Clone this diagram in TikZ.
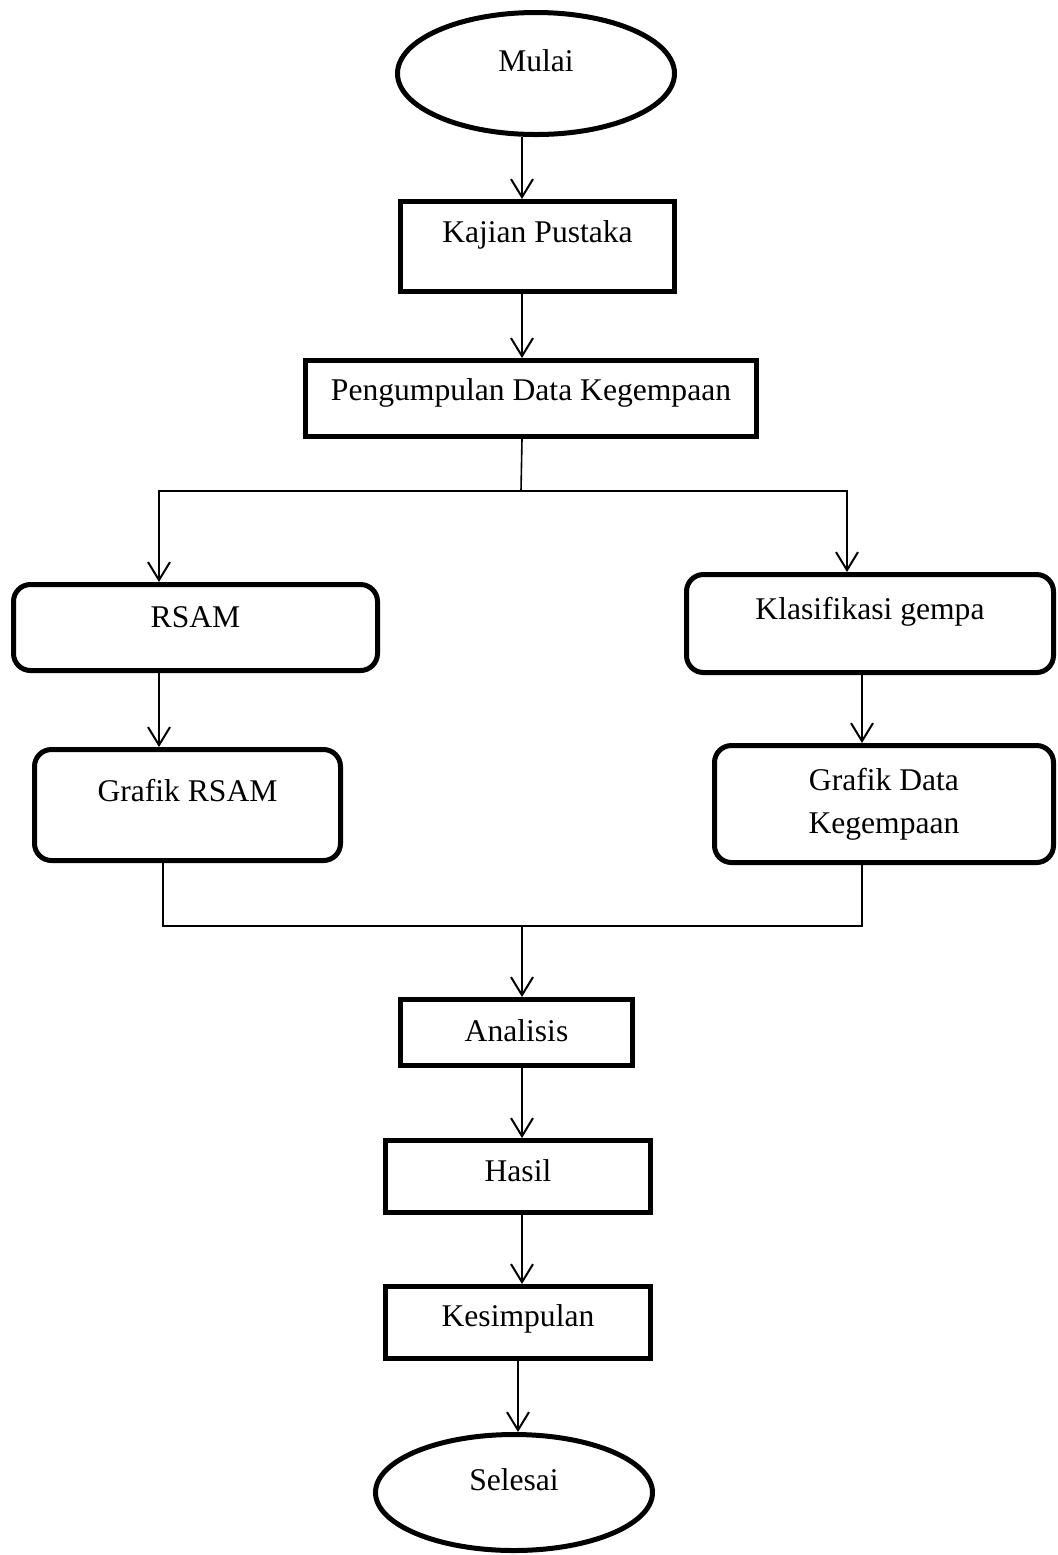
\documentclass[tikz,border=0pt]{standalone}
\usepackage{fontspec}
\setmainfont{Liberation Serif}
\usepackage{tikz}
\usetikzlibrary{calc,positioning,arrows.meta,shapes.geometric}

\begin{document}
\begin{tikzpicture}[x=0.5pt, y=-0.5pt, font=\fontsize{15.8}{21.5}\selectfont,
    >={Straight Barb[length=9pt,width=11pt]},
    proc/.style={draw, line width=2.5pt, inner sep=0pt},
    rbox/.style={proc, rounded corners=8.5pt},
    term/.style={draw, ellipse, line width=2.5pt, inner sep=0pt},
    lift/.style={text height=11pt, text depth=#1},
    arr/.style={->, line width=1pt},
    wire/.style={line width=0.8pt}]
  \useasboundingbox (0,0) rectangle (1058,1555);
  % jalur utama atas
  \node[term, lift=13pt, minimum width=138.5pt, minimum height=61pt]
        (mulai) at (536,73.5) {Mulai};
  \node[proc, lift=14.6pt, minimum width=137pt, minimum height=45pt]
        (kajian) at (537.5,246.5) {Kajian Pustaka};
  \node[proc, lift=9.1pt, minimum width=225.5pt, minimum height=38pt]
        (kumpul) at (531,398.5) {Pengumpulan Data Kegempaan};
  % cabang kiri dan kanan
  \node[rbox, lift=11.1pt, minimum width=182pt, minimum height=43pt]
        (rsam) at (195.5,627.5) {RSAM};
  \node[rbox, lift=14.6pt, minimum width=153pt, minimum height=55.5pt]
        (grsam) at (187.5,805) {Grafik RSAM};
  \node[rbox, lift=15.1pt, minimum width=183.5pt, minimum height=49pt]
        (klas) at (870,623.5) {Klasifikasi gempa};
  \node[rbox, align=center, minimum width=169.5pt, minimum height=58.5pt]
        (gdata) at (884,804) {Grafik Data\\Kegempaan};
  % jalur utama bawah
  \node[proc, lift=2.1pt, minimum width=116pt, minimum height=33pt]
        (anal) at (516.5,1032.5) {Analisis};
  \node[proc, lift=6.1pt, minimum width=132.5pt, minimum height=36pt]
        (hasil) at (518,1176.5) {Hasil};
  \node[proc, lift=6.6pt, minimum width=132.5pt, minimum height=36pt]
        (simpul) at (518,1322.5) {Kesimpulan};
  \node[term, lift=12.6pt, minimum width=138.5pt, minimum height=58pt]
        (selesai) at (514,1492.5) {Selesai};
  % titik cabang dan titik gabung
  \coordinate (split) at (521,491);
  \coordinate (splitL) at (159,491);
  \coordinate (splitR) at (847,491);
  \coordinate (merge) at (522,926);
  \coordinate (mergeL) at (163,926);
  \coordinate (mergeR) at (862,926);
  % panah
  \draw[arr] (mulai.south -| merge) -- (kajian.north -| merge);
  \draw[arr] (kajian.south -| merge) -- (kumpul.north -| merge);
  \draw[wire] (kumpul.south -| merge) -- (split);
  \draw[arr] (split) -- (splitL) -- (rsam.north -| splitL);
  \draw[arr] (split) -- (splitR) -- (klas.north -| splitR);
  \draw[arr] (rsam.south -| splitL) -- (grsam.north -| splitL);
  \draw[arr] (klas.south -| mergeR) -- (gdata.north -| mergeR);
  \draw[wire] (grsam.south -| mergeL) -- (mergeL) -- (mergeR)
        -- (gdata.south -| mergeR);
  \draw[arr] (merge) -- (anal.north -| merge);
  \draw[arr] (anal.south -| merge) -- (hasil.north -| merge);
  \draw[arr] (hasil.south -| merge) -- (simpul.north -| merge);
  \draw[arr] (simpul.south) -- (simpul.south |- selesai.north);
\end{tikzpicture}
\end{document}
